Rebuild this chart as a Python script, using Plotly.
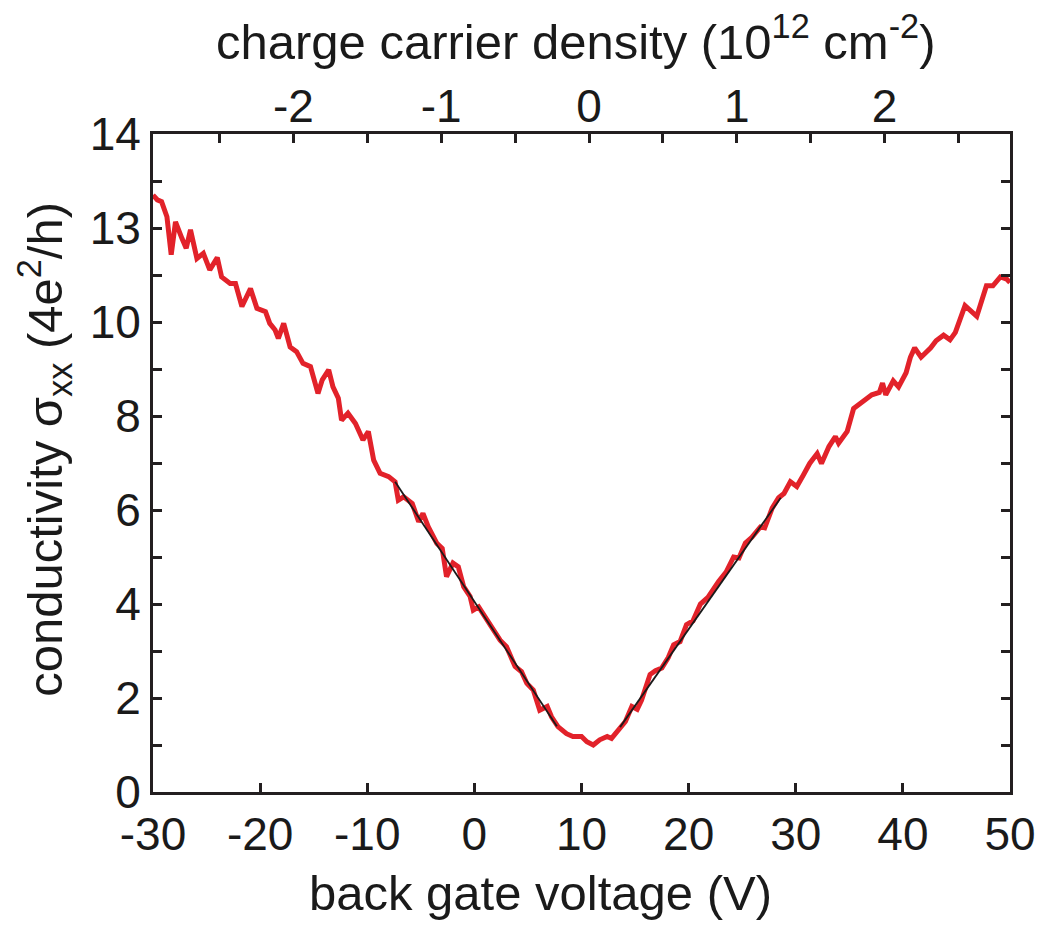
import plotly.graph_objects as go

# Back-gate sweep: conductivity vs gate voltage
vg = [-30.0, -29.6, -29.2, -28.7, -28.3, -27.9, -27.3, -26.9, -26.5, -25.9,
      -25.3, -24.7, -24.0, -23.6, -22.8, -22.3, -21.7, -20.9, -20.3, -19.5,
      -19.1, -18.6, -18.3, -17.8, -17.2, -16.6, -16.0, -15.3, -14.6, -14.2,
      -13.6, -13.2, -12.7, -12.4, -11.8, -11.1, -10.4, -9.9, -9.4, -8.8,
      -8.0, -7.4, -7.1, -6.6, -5.8, -5.2, -4.8, -4.3, -3.5, -3.0,
      -2.6, -2.0, -1.5, -1.0, -0.4, -0.1, 0.4, 1.0, 1.6, 2.4,
      3.0, 3.8, 4.4, 4.9, 5.5, 6.1, 6.8, 7.2, 7.8, 8.6,
      9.2, 10.0, 10.5, 11.1, 11.7, 12.4, 12.8, 13.4, 14.1, 14.7,
      15.2, 15.6, 16.4, 16.9, 17.5, 18.1, 18.6, 19.2, 19.8, 20.4,
      21.1, 21.8, 22.3, 22.8, 23.5, 24.2, 24.7, 25.3, 25.9, 26.7,
      27.1, 27.8, 28.4, 28.9, 29.5, 30.1, 30.7, 31.3, 32.0, 32.4,
      33.1, 33.7, 34.0, 34.8, 35.4, 36.3, 37.1, 37.8, 38.1, 38.4,
      39.1, 39.6, 40.3, 40.7, 41.1, 41.7, 42.6, 43.1, 43.8, 44.4,
      44.9, 45.8, 46.4, 46.9, 47.8, 48.4, 49.1, 49.7, 50.0]
sigma = [12.70, 12.60, 12.56, 12.24, 11.43, 12.13, 11.78, 11.57, 11.96, 11.35,
         11.46, 11.11, 11.37, 10.96, 10.82, 10.82, 10.33, 10.71, 10.29, 10.22,
         9.97, 9.83, 9.65, 9.97, 9.47, 9.37, 9.12, 9.05, 8.48, 8.77,
         8.98, 8.62, 8.38, 7.91, 8.06, 7.84, 7.49, 7.67, 7.06, 6.78,
         6.71, 6.60, 6.21, 6.28, 6.14, 5.75, 5.93, 5.64, 5.29, 5.18,
         4.58, 4.87, 4.79, 4.37, 4.16, 3.87, 3.94, 3.73, 3.52, 3.23,
         3.09, 2.67, 2.56, 2.31, 2.17, 1.74, 1.82, 1.60, 1.39, 1.24,
         1.18, 1.18, 1.07, 1.00, 1.11, 1.18, 1.14, 1.30, 1.50, 1.82,
         1.76, 1.95, 2.50, 2.58, 2.64, 2.86, 3.13, 3.20, 3.56, 3.64,
         4.00, 4.14, 4.32, 4.48, 4.68, 5.00, 4.98, 5.30, 5.42, 5.64,
         5.62, 6.04, 6.26, 6.35, 6.60, 6.50, 6.74, 6.99, 7.20, 6.99,
         7.35, 7.56, 7.42, 7.67, 8.16, 8.30, 8.45, 8.50, 8.70, 8.45,
         8.75, 8.62, 8.92, 9.25, 9.45, 9.25, 9.45, 9.60, 9.72, 9.62,
         9.78, 10.35, 10.23, 10.12, 10.77, 10.77, 10.96, 10.91, 10.84]

# Linear fits on the hole and electron sides
fit_hole_v = [-7.4, 7.7]
fit_hole_s = [6.60, 1.40]
fit_elec_v = [13.6, 28.6]
fit_elec_s = [1.38, 6.26]

# Axis ticks
x_ticks = [-30, -20, -10, 0, 10, 20, 30, 40, 50]
x_ticktext = ["-30", "-20", "-10", "0", "10", "20", "30", "40", "50"]
y_ticks = list(range(0, 15))
y_ticktext = ["0", "", "2", "", "4", "", "6", "", "8", "", "10", "", "13", "", "14"]
n_ticks = [-2.5, -2.0, -1.5, -1.0, -0.5, 0.0, 0.5, 1.0, 1.5, 2.0, 2.5]
n_ticktext = ["", "-2", "", "-1", "", "0", "", "1", "", "2", ""]

# Gate voltage -> carrier density (10^12 cm^-2)
v_dirac = 10.7
v_per_density = 13.8
x_range = [-30, 50]
n_range = [(v - v_dirac) / v_per_density for v in x_range]

AX = "#231f20"
TXT = "#1a1a1a"
FONT = "Liberation Sans, Arial, Helvetica, sans-serif"
FS = 46      # tick labels
FT = 49      # axis titles

fig = go.Figure()
fig.add_trace(go.Scatter(x=vg, y=sigma, mode="lines",
                         line=dict(color="#e2222a", width=5),
                         showlegend=False, hoverinfo="skip"))
fig.add_trace(go.Scatter(x=fit_hole_v, y=fit_hole_s, mode="lines",
                         line=dict(color="#1a1a1a", width=1.8),
                         showlegend=False, hoverinfo="skip"))
fig.add_trace(go.Scatter(x=fit_elec_v, y=fit_elec_s, mode="lines",
                         line=dict(color="#1a1a1a", width=1.8),
                         showlegend=False, hoverinfo="skip"))
# carrier-density axis along the top
fig.add_trace(go.Scatter(x=n_range, y=[None, None], xaxis="x2", mode="lines",
                         showlegend=False, hoverinfo="skip"))

axis_common = dict(showgrid=False, zeroline=False, showline=True,
                   linecolor=AX, linewidth=3, ticks="inside", ticklen=9,
                   tickwidth=3, tickcolor=AX,
                   tickfont=dict(family=FONT, size=FS, color=TXT))

title_font = dict(family=FONT, size=FT, color=TXT)

fig.update_layout(
    width=1057, height=927,
    margin=dict(l=153, r=47, t=134, b=135),
    paper_bgcolor="white", plot_bgcolor="white",
    font=dict(family=FONT, size=FS, color=TXT),
    xaxis=dict(range=x_range, tickmode="array", tickvals=x_ticks,
               ticktext=x_ticktext, mirror=True, **axis_common),
    xaxis2=dict(range=n_range, overlaying="x", side="top",
                tickmode="array", tickvals=n_ticks, ticktext=n_ticktext,
                ticklabelstandoff=-9, **axis_common),
    yaxis=dict(range=[0, 14], tickmode="array", tickvals=y_ticks,
               ticktext=y_ticktext, mirror="ticks", **axis_common),
    annotations=[
        dict(text="back gate voltage (V)", xref="paper", yref="paper",
             x=0.4516, y=-0.1535, xanchor="center", yanchor="middle",
             showarrow=False, font=title_font),
        dict(text="charge carrier density (10<sup>12</sup> cm<sup>-2</sup>)",
             xref="paper", yref="paper", x=0.4936, y=1.146,
             xanchor="center", yanchor="middle", showarrow=False,
             font=title_font),
        dict(text="conductivity σ<sub>xx</sub> (4e<sup>2</sup>/h)",
             xref="paper", yref="paper", x=-0.126, y=0.52,
             xanchor="center", yanchor="middle", textangle=-90,
             showarrow=False, font=title_font),
    ],
)

fig.write_html("out.html")
